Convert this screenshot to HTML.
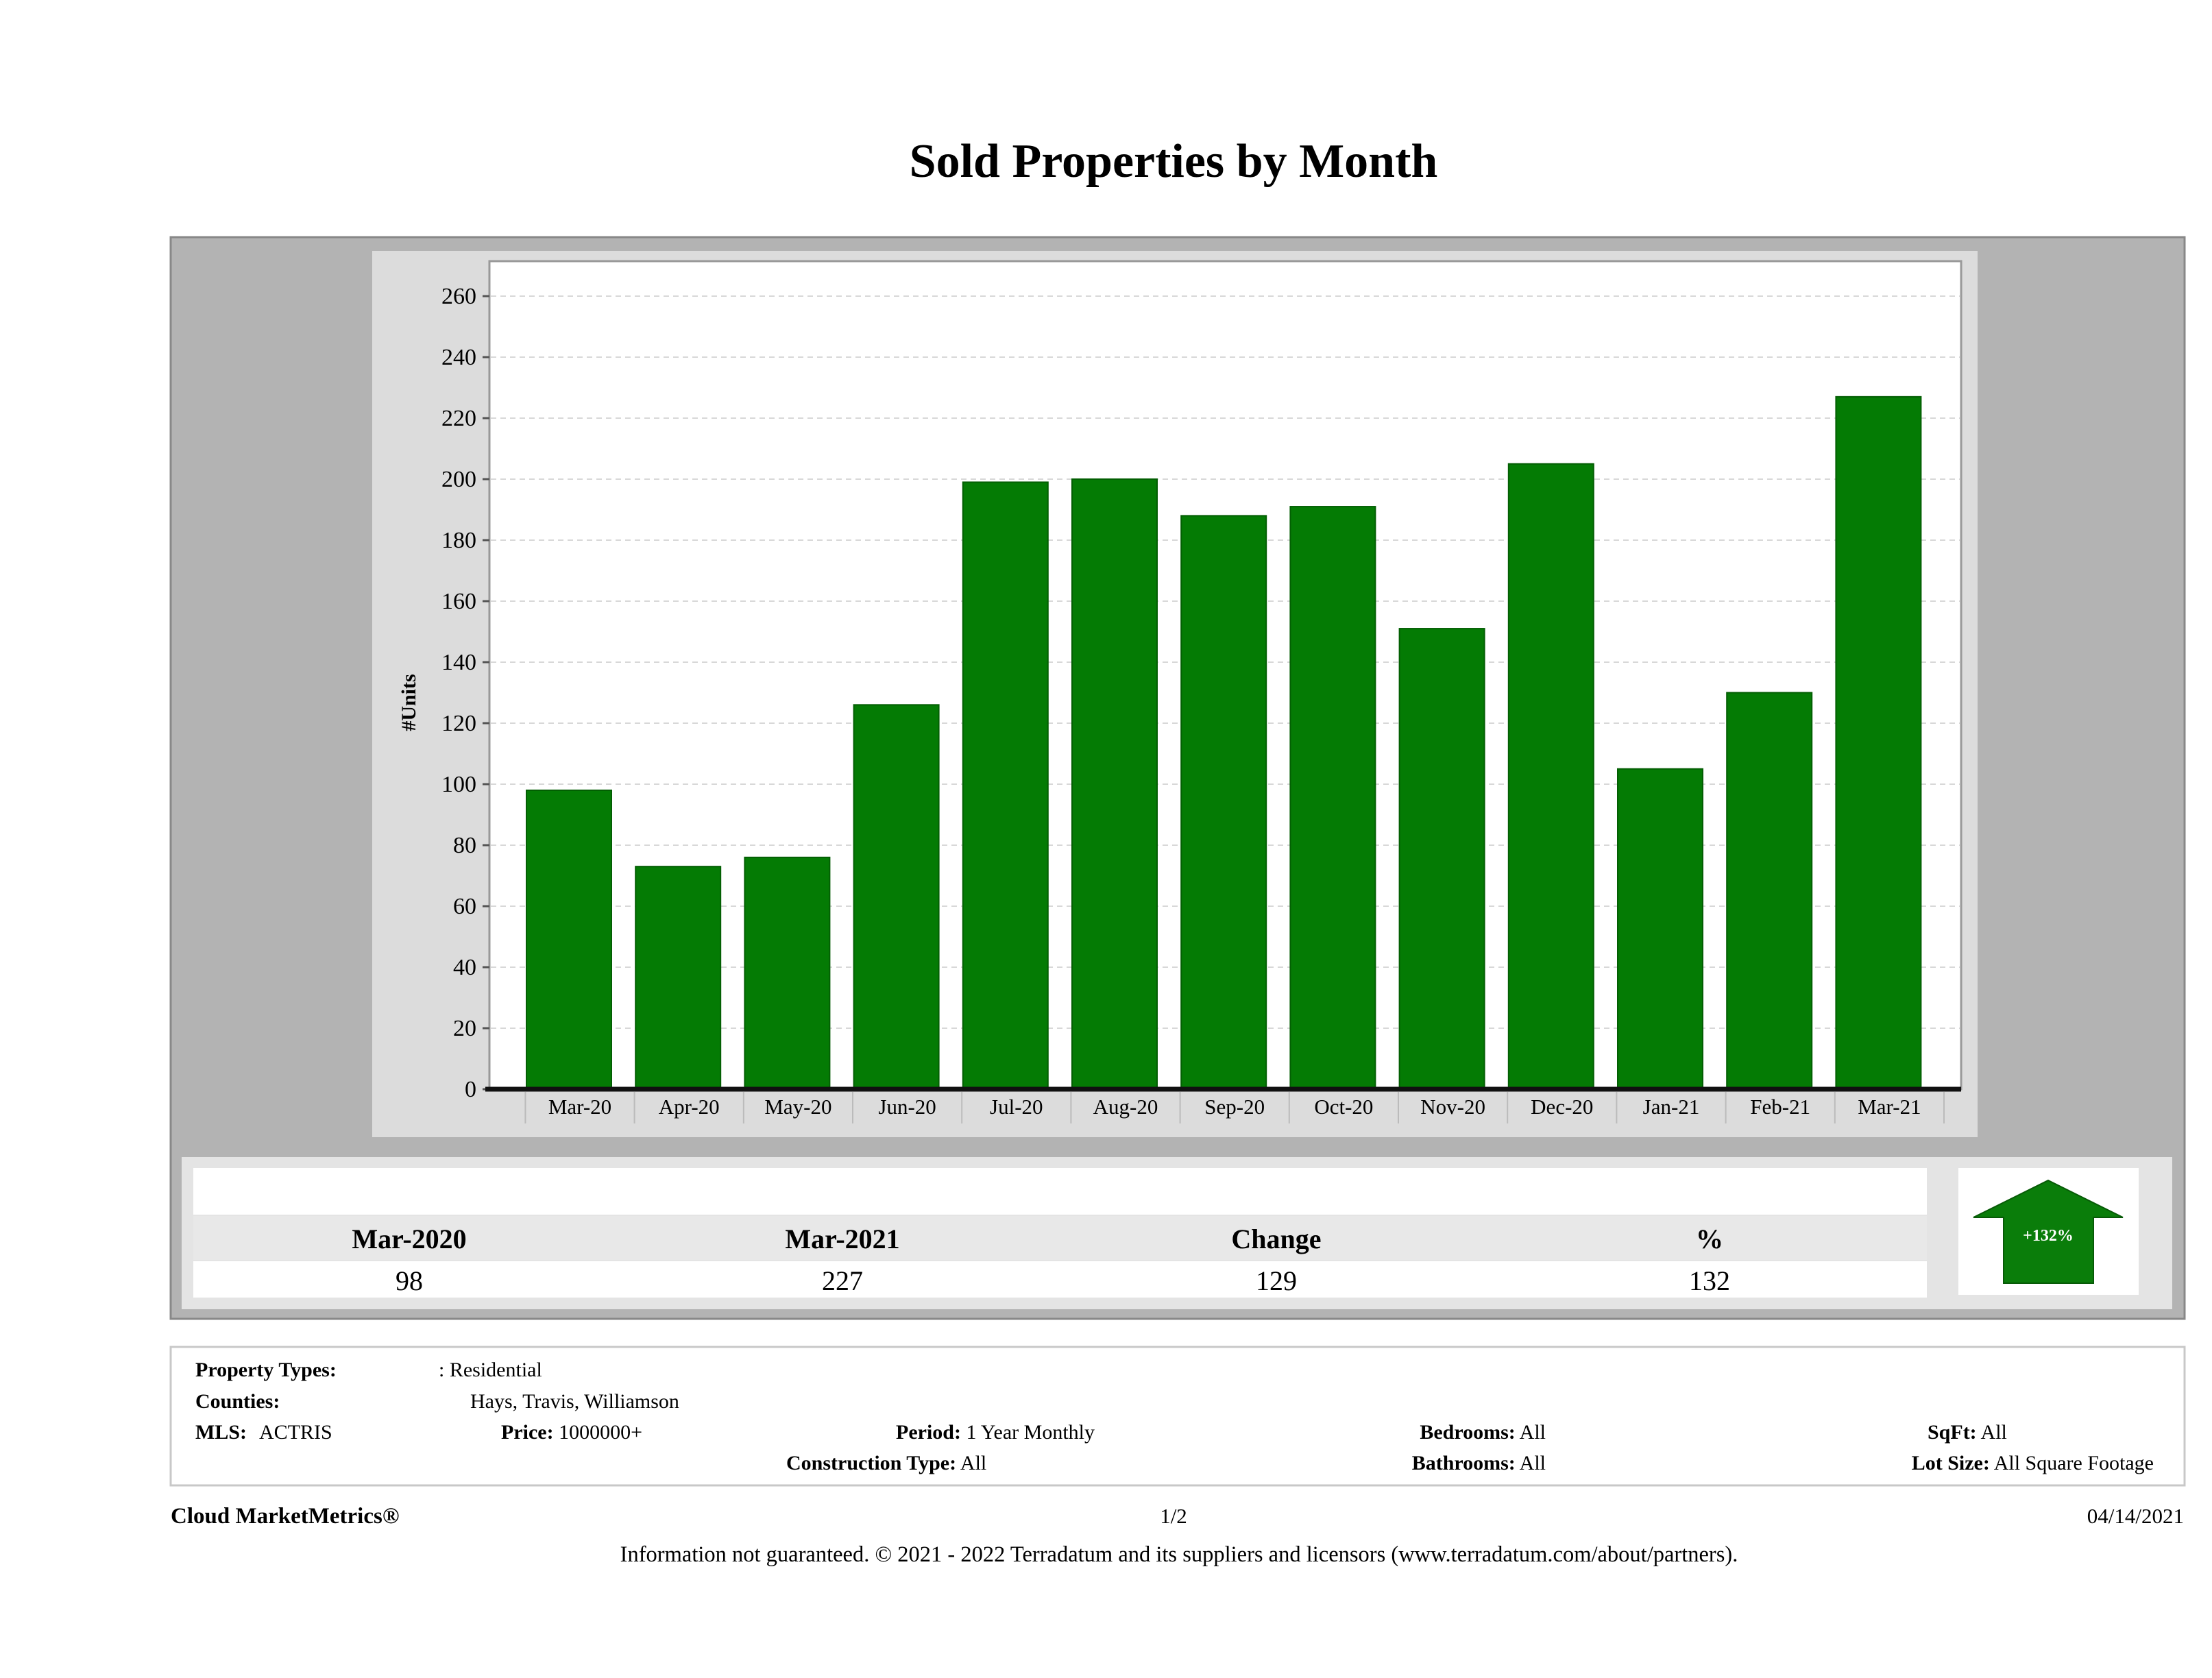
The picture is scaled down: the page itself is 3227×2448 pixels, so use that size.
<!DOCTYPE html>
<html><head><meta charset="utf-8"><style>
html,body{margin:0;padding:0;background:#fff;}
svg{display:block;font-family:"Liberation Serif",serif;}
</style></head><body>
<svg id="page" width="3227" height="2448" viewBox="0 0 3227 2448" xmlns="http://www.w3.org/2000/svg">
<text x="1712" y="258" font-size="70" font-weight="bold" text-anchor="middle" fill="#000">Sold Properties by Month</text>
<rect x="249" y="346" width="2938" height="1578" fill="#b3b3b3" stroke="#888" stroke-width="3"/>
<rect x="543" y="366" width="2342" height="1293" fill="#dcdcdc"/>
<rect x="714" y="381" width="2147" height="1208" fill="#fff" stroke="#999" stroke-width="3"/>
<g id="grid"></g>
<g id="bars"></g>
<g id="axes"></g>
<text transform="translate(606,1025) rotate(-90)" font-size="30" font-weight="bold" text-anchor="middle">#Units</text>

<rect x="265" y="1688" width="2904" height="222" fill="#e4e4e4"/>
<rect x="282" y="1704" width="2529" height="68" fill="#fff"/>
<rect x="282" y="1774" width="2529" height="64" fill="#e8e8e8"/>
<rect x="282" y="1840" width="2529" height="53" fill="#fff"/>
<g font-size="40" text-anchor="middle">
<text x="597" y="1821" font-weight="bold">Mar-2020</text>
<text x="1229" y="1821" font-weight="bold">Mar-2021</text>
<text x="1862" y="1821" font-weight="bold">Change</text>
<text x="2494" y="1821" font-weight="bold">%</text>
<text x="597" y="1882">98</text>
<text x="1229" y="1882">227</text>
<text x="1862" y="1882">129</text>
<text x="2494" y="1882">132</text>
</g>
<rect x="2857" y="1704" width="263" height="185" fill="#fff"/>
<polygon points="2988,1722 3097,1776 3054,1776 3054,1872 2923,1872 2923,1776 2879,1776" fill="#0a7d0a" stroke="#075a07" stroke-width="2"/>
<text x="2988" y="1810" font-size="24" font-weight="bold" fill="#fff" text-anchor="middle">+132%</text>

<rect x="249" y="1965" width="2938" height="202" fill="#fff" stroke="#c8c8c8" stroke-width="3"/>
<g font-size="30">
<text x="285" y="2008" font-weight="bold">Property Types:</text>
<text x="640" y="2008">: Residential</text>
<text x="285" y="2054" font-weight="bold">Counties:</text>
<text x="686" y="2054">Hays, Travis, Williamson</text>
<text x="285" y="2099" font-weight="bold">MLS:</text>
<text x="378" y="2099">ACTRIS</text>
<text x="731" y="2099"><tspan font-weight="bold">Price:</tspan> 1000000+</text>
<text x="1307" y="2099"><tspan font-weight="bold">Period:</tspan> 1 Year Monthly</text>
<text x="2255" y="2099" text-anchor="end"><tspan font-weight="bold">Bedrooms:</tspan> All</text>
<text x="2812" y="2099"><tspan font-weight="bold">SqFt:</tspan>  All</text>
<text x="1147" y="2144"><tspan font-weight="bold">Construction Type:</tspan> All</text>
<text x="2255" y="2144" text-anchor="end"><tspan font-weight="bold">Bathrooms:</tspan> All</text>
<text x="3142" y="2144" text-anchor="end"><tspan font-weight="bold">Lot Size:</tspan>  All Square Footage</text>
</g>
<text x="249" y="2222" font-size="33" font-weight="bold">Cloud MarketMetrics®</text>
<text x="1712" y="2222" font-size="31" text-anchor="middle">1/2</text>
<text x="3186" y="2222" font-size="31" text-anchor="end">04/14/2021</text>
<text x="1720" y="2278" font-size="32.5" text-anchor="middle">Information not guaranteed. © 2021 - 2022 Terradatum and its suppliers and licensors (www.terradatum.com/about/partners).</text>
</svg>
<script>
const categories = ["Mar-20","Apr-20","May-20","Jun-20","Jul-20","Aug-20","Sep-20","Oct-20","Nov-20","Dec-20","Jan-21","Feb-21","Mar-21"];
const soldUnits = [98,73,76,126,199,200,188,191,151,205,105,130,227];
const yTicks = [0,20,40,60,80,100,120,140,160,180,200,220,240,260];

const NS = "http://www.w3.org/2000/svg";
const Y0 = 1589, PXU = 4.45, X0 = 768, STEP = 159.2;
function yScale(v){ return Y0 - v*PXU; }
function xBand(i){ return X0 + i*STEP; }
function mk(tag, attrs, parent){
  const e = document.createElementNS(NS, tag);
  for (const k in attrs) e.setAttribute(k, attrs[k]);
  parent.appendChild(e); return e;
}
const grid = document.getElementById('grid');
const bars = document.getElementById('bars');
const axes = document.getElementById('axes');
yTicks.forEach(t => {
  const y = yScale(t);
  if (t > 0) {
    const g = mk('line', {x1:716, x2:2859, y1:y, y2:y, stroke:'#d8d8d8', 'stroke-width':2, 'stroke-dasharray':'8,6'}, grid);
    
    
  }
  const tk = mk('line', {x1:704, x2:714, y1:y, y2:y, stroke:'#555', 'stroke-width':3}, axes);
  
  
  const lb = mk('text', {x:695, y:y+11, 'font-size':34, 'text-anchor':'end'}, axes);
  lb.textContent = t;
  
  
});
categories.forEach((c, i) => {
  const v = soldUnits[i];
  const b = mk('rect', {x:xBand(i), y:yScale(v), width:124, height:Y0 - yScale(v), fill:'#047b04', stroke:'#035e03', 'stroke-width':2}, bars);
  
  
  const cx = xBand(i) + 62 + 16;
  const sep = mk('line', {x1:cx - STEP/2, x2:cx - STEP/2, y1:Y0+4, y2:Y0+50, stroke:'#bbb', 'stroke-width':2}, axes);
  
  
  const lb = mk('text', {x:cx, y:Y0+36, 'font-size':31, 'text-anchor':'middle'}, axes);
  lb.textContent = c;
  
  
});
const lastSep = mk('line', {x1:xBand(categories.length)+78-STEP/2, x2:xBand(categories.length)+78-STEP/2, y1:Y0+4, y2:Y0+50, stroke:'#bbb', 'stroke-width':2}, axes);


const xa = mk('line', {x1:708, x2:2861, y1:Y0, y2:Y0, stroke:'#111', 'stroke-width':7}, axes);


</script>
</body></html>
